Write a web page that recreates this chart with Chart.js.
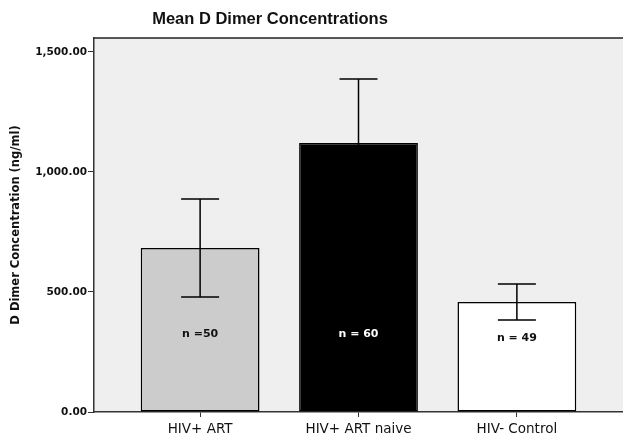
<!DOCTYPE html>
<html>
<head>
<meta charset="utf-8">
<script src="https://cdn.jsdelivr.net/npm/chart.js@4/dist/chart.umd.min.js"></script>
<style>
    html, body { margin: 0; padding: 0; background: #ffffff; }
    #wrap { width: 623px; height: 437px; position: relative; }
</style>
</head>
<body>
<div id="wrap"><canvas id="dimer-chart"></canvas></div>
<script>
// Values
const groups = ['HIV+ ART', 'HIV+ ART naive', 'HIV- Control'];
const meanDimer = [683, 1121, 458];
const ciLower = [479, 855, 383];
const ciUpper = [887, 1387, 533];
const groupN = ['n =50', 'n = 60', 'n = 49'];
const yTicks = [0, 500, 1000, 1500];

const barColors = ['#cccccc', '#000000', '#ffffff'];
const wideFont = '"DejaVu Sans", Verdana, sans-serif';

// gray plot background + top frame line
const plotBackground = {
    id: 'plotBackground',
    beforeDraw(chart) {
        const { ctx, chartArea: a } = chart;
        ctx.save();
        ctx.fillStyle = '#efefef';
        ctx.fillRect(a.left, a.top, a.right - a.left, a.bottom - a.top);
        ctx.strokeStyle = '#222222';
        ctx.lineWidth = 1.5;
        ctx.beginPath();
        ctx.moveTo(a.left, a.top);
        ctx.lineTo(a.right, a.top);
        ctx.stroke();
        ctx.restore();
    }
};

// title, error bars and n labels
const annotations = {
    id: 'annotations',
    afterDatasetsDraw(chart) {
        const { ctx } = chart;
        const x = chart.scales.x;
        const y = chart.scales.y;
        ctx.save();

        ctx.fillStyle = '#111111';
        ctx.font = 'bold 16.5px "Liberation Sans", Arial, sans-serif';
        ctx.textAlign = 'center';
        ctx.textBaseline = 'middle';
        ctx.fillText('Mean D Dimer Concentrations', 270, 19);

        ctx.strokeStyle = '#000000';
        ctx.lineWidth = 1.5;
        groups.forEach((g, i) => {
            const cx = x.getPixelForValue(i);
            const top = y.getPixelForValue(ciUpper[i]);
            const bot = y.getPixelForValue(ciLower[i]);
            ctx.beginPath();
            ctx.moveTo(cx, top);
            ctx.lineTo(cx, bot);
            ctx.moveTo(cx - 19, top);
            ctx.lineTo(cx + 19, top);
            ctx.moveTo(cx - 19, bot);
            ctx.lineTo(cx + 19, bot);
            ctx.stroke();
        });

        ctx.font = 'bold 11px ' + wideFont;
        groups.forEach((g, i) => {
            const cx = x.getPixelForValue(i);
            const ly = Math.max(y.getPixelForValue(325), y.getPixelForValue(ciLower[i]) + 18);
            ctx.fillStyle = barColors[i] === '#000000' ? '#ffffff' : '#111111';
            ctx.fillText(groupN[i], cx, ly);
        });
        ctx.restore();
    }
};

const chart = new Chart(document.getElementById('dimer-chart').getContext('2d'), {
    type: 'bar',
    data: {
        datasets: [{
            data: meanDimer.map((v, i) => ({ x: i, y: v })),
            backgroundColor: barColors,
            borderColor: '#000000',
            borderWidth: 1.5,
            borderSkipped: false,
            categoryPercentage: 1,
            barPercentage: 0.75
        }]
    },
    options: {
        responsive: true,
        maintainAspectRatio: false,
        animation: false,
        layout: { padding: { top: 38, right: 0, left: 0, bottom: 0 } },
        plugins: {
            legend: { display: false },
            tooltip: { enabled: false }
        },
        scales: {
            x: {
                type: 'linear',
                offset: false,
                min: -0.67,
                max: 2.67,
                afterBuildTicks: s => { s.ticks = groups.map((g, i) => ({ value: i })); },
                afterFit: s => { s.height = 25; },
                grid: { offset: false, drawOnChartArea: false, drawTicks: true, tickLength: 5, color: '#333333' },
                border: { color: '#333333', width: 1.5 },
                ticks: {
                    padding: 4,
                    color: '#111111',
                    maxRotation: 0,
                    font: { family: wideFont, size: 13.5 },
                    callback: v => groups[v]
                }
            },
            y: {
                min: 0,
                max: 1558,
                afterBuildTicks: s => { s.ticks = yTicks.map(v => ({ value: v })); },
                afterFit: s => { s.width = 94; },
                grid: { drawOnChartArea: false, drawTicks: true, tickLength: 6, color: '#333333' },
                border: { color: '#333333', width: 1.5 },
                ticks: {
                    padding: 1,
                    color: '#111111',
                    font: { family: wideFont, size: 10.5, weight: 'bold' },
                    callback: v => v.toLocaleString('en-US', { minimumFractionDigits: 2, maximumFractionDigits: 2 })
                },
                title: {
                    display: true,
                    text: 'D Dimer Concentration (ng/ml)',
                    color: '#111111',
                    padding: { top: 9, bottom: 0 },
                    font: { family: wideFont, size: 11.5, weight: 'bold' }
                }
            }
        }
    },
    plugins: [plotBackground, annotations]
});
</script>
</body>
</html>
